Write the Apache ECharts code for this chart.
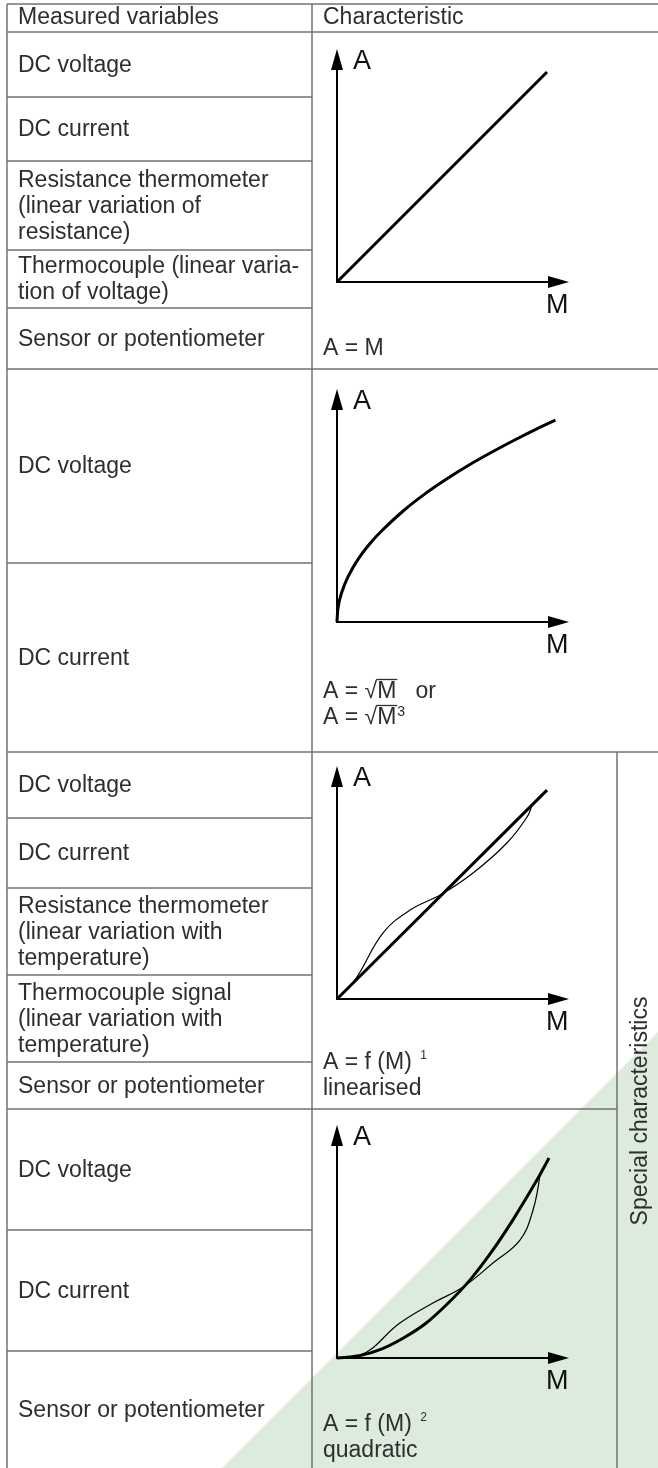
<!DOCTYPE html>
<html><head><meta charset="utf-8">
<script src="https://cdn.jsdelivr.net/npm/echarts@6/dist/echarts.min.js"></script>
<style>html,body{margin:0;padding:0;background:#fff}#c{width:658px;height:1468px}</style>
</head><body><div id="c"></div>
<script>
// ---------- text content ----------
const headerLabels = ['Measured variables', 'Characteristic'];
const group1Variables = ['DC voltage', 'DC current', 'Resistance thermometer\n(linear variation of\nresistance)', 'Thermocouple (linear varia-\ntion of voltage)', 'Sensor or potentiometer'];
const group2Variables = ['DC voltage', 'DC current'];
const group3Variables = ['DC voltage', 'DC current', 'Resistance thermometer\n(linear variation with\ntemperature)', 'Thermocouple signal\n(linear variation with\ntemperature)', 'Sensor or potentiometer'];
const group4Variables = ['DC voltage', 'DC current', 'Sensor or potentiometer'];
const group1Formula = [['A = M', '']];
const group2Formula = [['A = √M   or', ''], ['A = √M', '3']];
const group3Formula = [['A = f (M) ', '1'], ['linearised', '']];
const group4Formula = [['A = f (M) ', '2'], ['quadratic', '']];
const sideLabel = 'Special characteristics';
const axisNameA = 'A';
const axisNameM = 'M';

// ---------- series values (M on x, A on y, axis units 0..10) ----------
const linearM = [0, 9.48];
const linearA = [0, 9.44];
const sqrtM = [0, 0.05, 0.2, 0.5, 1, 1.5, 2, 3, 4, 5, 6, 7, 8, 9, 9.86];
const sqrtA = [0, 0.65, 1.29, 2.04, 2.89, 3.54, 4.08, 5.0, 5.78, 6.46, 7.08, 7.64, 8.17, 8.67, 9.07];
const linThickM = [0, 9.48];
const linThickA = [0, 9.39];
const linThinM = [0, 0.81, 2.08, 3.3, 4.74, 6.14, 7.67, 8.58, 8.8];
const linThinA = [0, 0.85, 2.97, 4.0, 4.72, 5.66, 7.01, 8.18, 8.72];
const quadThickM = [0, 1, 2, 3, 4, 5, 6, 7, 8, 9, 9.57];
const quadThickA = [0, 0.1, 0.4, 0.9, 1.55, 2.45, 3.5, 4.8, 6.3, 7.95, 8.99];
const quadThinM = [0, 1.04, 2.84, 4.33, 5.69, 7.04, 8.26, 8.85, 9.16];
const quadThinA = [0, 0.13, 1.57, 2.47, 3.19, 4.27, 5.3, 6.65, 8.22];

// ---------- layout / style ----------
const FONT = '"Liberation Sans", Arial, sans-serif';
const TXT = '#2e2e2e';
const LINE = '#727272';
const FS = 23;
const X_L = 7, X_C = 312, X_S = 617, X_R = 658, Y_T = 4, Y_H = 32, Y_B = 1468;
const groupRows = [
  [32, 97, 161, 250, 308, 369],
  [369, 563, 752],
  [752, 818, 888, 975, 1062, 1109],
  [1109, 1230, 1351, 1468]
];
const groupVars = [group1Variables, group2Variables, group3Variables, group4Variables];
const groupFormulas = [group1Formula, group2Formula, group3Formula, group4Formula];
const formulaCenters = [[349], [692, 718], [1063, 1089], [1425, 1451]];
const plotOrigins = [282, 622, 999, 1358];
const PLOT_L = 337, LEN_X = 221.5, LEN_Y = 222.5;

const pairs = (xs, ys) => xs.map((x, i) => [x, ys[i]]);

const graphics = [];
// green triangle
graphics.push({type: 'polygon', z: 0, silent: true,
  shape: {points: [[222, 1468], [658, 1032], [658, 1468]]},
  style: {fill: '#dcebdc'}});
function hline(y, x1, x2) { graphics.push({type: 'line', z: 1, silent: true, shape: {x1, y1: y, x2, y2: y}, style: {stroke: LINE, lineWidth: 1.5}}); }
function vline(x, y1, y2) { graphics.push({type: 'line', z: 1, silent: true, shape: {x1: x, y1, x2: x, y2}, style: {stroke: LINE, lineWidth: 1.5}}); }
function text(x, y, s, extra) {
  graphics.push(Object.assign({type: 'text', z: 2, silent: true, x, y,
    style: {text: s, fontSize: FS, fontFamily: FONT, fill: TXT, align: 'left', verticalAlign: 'middle', lineHeight: 26,
      rich: {n: {fontSize: FS, fontFamily: FONT, fill: TXT, lineHeight: 26},
             s: {fontSize: 14, fontFamily: FONT, fill: TXT, lineHeight: 26, verticalAlign: 'top', padding: [0, 0, 0, 1]},
             t: {fontSize: 12, fontFamily: FONT, fill: TXT, lineHeight: 26, verticalAlign: 'top', padding: [0, 0, 0, 2]}}}}, extra || {}));
}
hline(Y_T, X_L, X_R);
hline(Y_H, X_L, X_R);
vline(X_L, Y_T, Y_B);
vline(X_C, Y_T, Y_B);
vline(X_S, 752, Y_B);
groupRows.forEach((rows, g) => {
  rows.forEach((y, j) => {
    if (j === 0) return;
    if (j === rows.length - 1) {
      if (g < 2) hline(y, X_L, X_R);
      else if (g === 2) hline(y, X_L, X_S);
    } else hline(y, X_L, X_C);
  });
  groupVars[g].forEach((s, j) => text(18, (rows[j] + rows[j + 1]) / 2 + 1, s));
  groupFormulas[g].forEach((f, j) => {
    const sup = f[1] ? (g === 1 ? '{s|' + f[1] + '}' : '{t|' + f[1] + '}') : '';
    text(323, formulaCenters[g][j], '{n|' + f[0] + '}' + sup);
  });
});
text(18, 18, headerLabels[0]);
text(323, 18, headerLabels[1]);
graphics.push({type: 'text', z: 2, silent: true, x: 641, y: 1111, rotation: Math.PI / 2,
  style: {text: sideLabel, fontSize: FS, fontFamily: FONT, fill: TXT, align: 'center', verticalAlign: 'middle'}});

// radical vinculum over M
const ctx = document.createElement('canvas').getContext('2d');
ctx.font = FS + 'px "Liberation Sans"';
formulaCenters[1].forEach(cy => {
  const x0 = 323 + ctx.measureText('A = √').width - 1;
  const x1 = 323 + ctx.measureText('A = √M').width + 1;
  const y = cy - 8.5 - 4;
  graphics.push({type: 'line', z: 2, silent: true, shape: {x1: x0, y1: y, x2: x1, y2: y}, style: {stroke: TXT, lineWidth: 1.3}});
});

// ---------- plots ----------
const grids = [], xAxes = [], yAxes = [];
plotOrigins.forEach((oy, i) => {
  grids.push({left: PLOT_L, top: oy - LEN_Y, width: LEN_X, height: LEN_Y, outerBoundsMode: 'none', containLabel: false});
  const axisLine = {show: true, symbol: ['none', 'triangle'], symbolSize: [12, 21], lineStyle: {color: '#000', width: 2}};
  xAxes.push({gridIndex: i, type: 'value', min: 0, max: 10, axisLine, axisTick: {show: false}, axisLabel: {show: false}, splitLine: {show: false},
    name: axisNameM, nameLocation: 'end', nameGap: 10,
    nameTextStyle: {fontSize: 27, fontFamily: FONT, color: '#111', align: 'right', verticalAlign: 'top', padding: [10, 0, 0, 0]}});
  yAxes.push({gridIndex: i, type: 'value', min: 0, max: 10, axisLine, axisTick: {show: false}, axisLabel: {show: false}, splitLine: {show: false},
    name: axisNameA, nameLocation: 'end', nameGap: -2,
    nameTextStyle: {fontSize: 27, fontFamily: FONT, color: '#111', align: 'left', verticalAlign: 'middle', padding: [0, 0, 0, 16]}});
});
function ser(i, xs, ys, w, smooth) {
  return {type: 'line', xAxisIndex: i, yAxisIndex: i, data: pairs(xs, ys), symbol: 'none', showSymbol: false, silent: true,
    clip: false, smooth: smooth, lineStyle: {color: '#000', width: w}, z: 5};
}
const series = [
  ser(0, linearM, linearA, 3, false),
  ser(1, sqrtM, sqrtA, 3, 0.3),
  ser(2, linThickM, linThickA, 3, false),
  ser(2, linThinM, linThinA, 1.2, 0.4),
  ser(3, quadThickM, quadThickA, 3, 0.3),
  ser(3, quadThinM, quadThinA, 1.2, 0.4)
];

const chart = echarts.init(document.getElementById('c'), null, {renderer: 'canvas'});
chart.setOption({
  animation: false,
  backgroundColor: '#fff',
  grid: grids, xAxis: xAxes, yAxis: yAxes, series,
  graphic: {elements: graphics}
});
</script></body></html>
